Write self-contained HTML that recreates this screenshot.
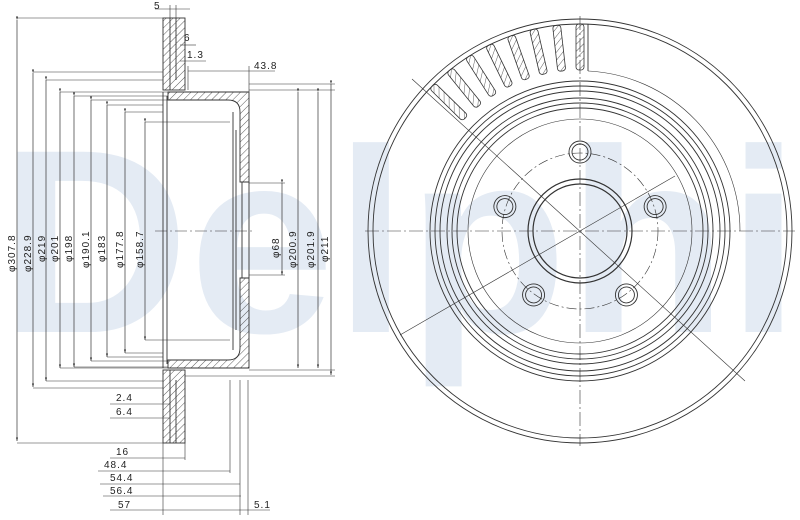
<!DOCTYPE html>
<html><head><meta charset="utf-8"><style>
html,body{margin:0;padding:0;background:#fff;width:800px;height:520px;overflow:hidden}
svg{display:block}
text{font-family:"Liberation Sans",sans-serif;font-size:10px;fill:#222;letter-spacing:1px}
</style></head><body>
<svg width="800" height="520" viewBox="0 0 800 520" xmlns="http://www.w3.org/2000/svg">
<defs>
<pattern id="h" width="5" height="5" patternUnits="userSpaceOnUse" patternTransform="rotate(45)">
<line x1="0" y1="0" x2="0" y2="5" stroke="#333" stroke-width="0.8"/></pattern>
<marker id="a" markerWidth="6" markerHeight="6" refX="5" refY="3" orient="auto"><path d="M0,1.5 L5,3 L0,4.5" fill="#333"/></marker>
</defs>
<text x="0" y="332" style="font-size:262px;font-weight:bold;fill:#e4ebf4;letter-spacing:0" textLength="800" lengthAdjust="spacingAndGlyphs">Delphi</text>

<g fill="none" stroke="#333" stroke-width="0.9">
<rect x="163" y="18" width="22" height="72" fill="url(#h)"/>
<rect x="163" y="370" width="22" height="73" fill="url(#h)"/>
<line x1="170" y1="18" x2="170" y2="90"/><line x1="176" y1="18" x2="176" y2="80"/>
<line x1="170" y1="370" x2="170" y2="443"/><line x1="176" y1="380" x2="176" y2="443"/>
<path d="M168,92 L249,92 L249,182 L240,182 L240,112 Q240,100 228,100 L168,100 Z" fill="url(#h)"/>
<path d="M168,368 L249,368 L249,278 L240,278 L240,348 Q240,360 228,360 L168,360 Z" fill="url(#h)"/>
<line x1="163" y1="92" x2="163" y2="368"/><line x1="167" y1="96" x2="167" y2="364"/>
<line x1="233" y1="112" x2="233" y2="350"/><line x1="236" y1="130" x2="236" y2="330"/>
<line x1="249" y1="182" x2="249" y2="278"/><line x1="242" y1="182" x2="242" y2="278"/>
<line x1="155" y1="231" x2="255" y2="231" stroke-dasharray="12,3,2,3" stroke-width="0.6"/>
<g marker-end="url(#a)" marker-start="url(#a)" stroke-width="0.7">
<line x1="17" y1="20" x2="17" y2="441"/>
<line x1="33" y1="73" x2="33" y2="387"/>
<line x1="46" y1="80" x2="46" y2="381"/>
<line x1="60" y1="92" x2="60" y2="368"/>
<line x1="74" y1="96" x2="74" y2="367"/>
<line x1="91" y1="100" x2="91" y2="361"/>
<line x1="107" y1="105" x2="107" y2="357"/>
<line x1="125" y1="112" x2="125" y2="353"/>
<line x1="145" y1="122" x2="145" y2="340"/>
<line x1="282" y1="183" x2="282" y2="275"/>
<line x1="298" y1="92" x2="298" y2="368"/>
<line x1="318" y1="92" x2="318" y2="368"/>
<line x1="331" y1="84" x2="331" y2="375"/>
</g>
<g stroke-width="0.6">
<line x1="17" y1="18" x2="163" y2="18"/><line x1="17" y1="443" x2="163" y2="443"/>
<line x1="33" y1="72" x2="163" y2="72"/><line x1="33" y1="388" x2="163" y2="388"/>
<line x1="46" y1="80" x2="163" y2="80"/><line x1="46" y1="381" x2="163" y2="381"/>
<line x1="60" y1="92" x2="168" y2="92"/><line x1="60" y1="368" x2="168" y2="368"/>
<line x1="74" y1="96" x2="168" y2="96"/><line x1="74" y1="367" x2="168" y2="367"/>
<line x1="91" y1="100" x2="168" y2="100"/><line x1="91" y1="361" x2="168" y2="361"/>
<line x1="107" y1="105" x2="163" y2="105"/><line x1="107" y1="357" x2="163" y2="357"/>
<line x1="125" y1="112" x2="163" y2="112"/><line x1="125" y1="353" x2="163" y2="353"/>
<line x1="145" y1="122" x2="230" y2="122"/><line x1="145" y1="340" x2="230" y2="340"/>
<line x1="249" y1="183" x2="285" y2="183"/><line x1="249" y1="275" x2="285" y2="275"/>
<line x1="249" y1="90" x2="335" y2="90"/><line x1="249" y1="370" x2="335" y2="370"/>
<line x1="249" y1="84" x2="335" y2="84"/><line x1="185" y1="376" x2="335" y2="376"/>
<line x1="155" y1="9" x2="190" y2="9"/><line x1="170" y1="5" x2="170" y2="18"/><line x1="176" y1="5" x2="176" y2="18"/>
<line x1="180" y1="45" x2="196" y2="45"/><line x1="180" y1="61" x2="206" y2="61"/>
<line x1="188" y1="71" x2="275" y2="71"/><line x1="188" y1="66" x2="188" y2="90"/><line x1="249" y1="66" x2="249" y2="92"/>
<line x1="110" y1="404" x2="170" y2="404"/><line x1="110" y1="418" x2="170" y2="418"/>
<line x1="110" y1="458" x2="185" y2="458"/>
<line x1="98" y1="471" x2="230" y2="471"/>
<line x1="100" y1="484" x2="240" y2="484"/>
<line x1="103" y1="496" x2="241" y2="496"/>
<line x1="110" y1="510" x2="270" y2="510"/>
<line x1="163" y1="443" x2="163" y2="515"/><line x1="185" y1="443" x2="185" y2="460"/>
<line x1="230" y1="380" x2="230" y2="473"/><line x1="240" y1="380" x2="240" y2="515"/><line x1="248" y1="380" x2="248" y2="515"/>
</g>
</g>
<g>
<text x="154" y="9">5</text><text x="184" y="41">6</text><text x="187" y="58">1.3</text><text x="254" y="69">43.8</text>
<text x="116" y="401">2.4</text><text x="116" y="415">6.4</text>
<text x="116" y="455">16</text><text x="104" y="468">48.4</text><text x="110" y="481">54.4</text><text x="110" y="494">56.4</text><text x="118" y="508">57</text><text x="254" y="508">5.1</text>
</g>
<g style="font-size:10px">
<text transform="translate(15,272) rotate(-90)">φ307.8</text>
<text transform="translate(31,272) rotate(-90)">φ228.9</text>
<text transform="translate(45,262) rotate(-90)">φ219</text>
<text transform="translate(58,262) rotate(-90)">φ201</text>
<text transform="translate(72,262) rotate(-90)">φ198</text>
<text transform="translate(89,268) rotate(-90)">φ190.1</text>
<text transform="translate(105,262) rotate(-90)">φ183</text>
<text transform="translate(123,268) rotate(-90)">φ177.8</text>
<text transform="translate(143,268) rotate(-90)">φ158.7</text>
<text transform="translate(279,258) rotate(-90)">φ68</text>
<text transform="translate(296,268) rotate(-90)">φ200.9</text>
<text transform="translate(314,268) rotate(-90)">φ201.9</text>
<text transform="translate(328,262) rotate(-90)">φ211</text>
</g>

<g fill="none" stroke="#333" stroke-width="0.9" transform="translate(580,231)">
<circle r="212"/><circle r="207"/>
<circle r="150"/><circle r="145"/><circle r="140"/><circle r="133"/><circle r="128"/><circle r="123"/>
<circle r="112" stroke-width="0.6"/>
<circle r="78" stroke-dasharray="10,3,2,3" stroke-width="0.6"/>
<circle r="52" stroke-width="1.2"/><circle r="47" stroke-width="1.2"/>
<g stroke-width="0.6">
<line x1="-215" y1="0" x2="215" y2="0" stroke-dasharray="14,3,2,3"/>
<line x1="0" y1="-215" x2="0" y2="215" stroke-dasharray="14,3,2,3"/>
<line x1="-168" y1="-152" x2="165" y2="150"/>
<line x1="95" y1="-55" x2="-180" y2="104"/>
</g>
<g id="b"><circle cx="0" cy="-79" r="11"/><circle cx="0" cy="-79" r="8"/></g>
<use href="#b" transform="rotate(72)"/><use href="#b" transform="rotate(144)"/><use href="#b" transform="rotate(216)"/><use href="#b" transform="rotate(288)"/>
<g fill="url(#h)" stroke-width="0.8">
<rect x="-4" y="-207" width="8" height="46" rx="3" transform="rotate(0)"/>
<rect x="-4" y="-207" width="8" height="46" rx="3" transform="rotate(-6.5)"/>
<rect x="-4" y="-207" width="8" height="46" rx="3" transform="rotate(-13)"/>
<rect x="-4" y="-207" width="8" height="46" rx="3" transform="rotate(-19.5)"/>
<rect x="-4" y="-207" width="8" height="46" rx="3" transform="rotate(-26)"/>
<rect x="-4" y="-207" width="8" height="46" rx="3" transform="rotate(-32.5)"/>
<rect x="-4" y="-207" width="8" height="46" rx="3" transform="rotate(-39)"/>
<rect x="-4" y="-207" width="8" height="46" rx="3" transform="rotate(-45.5)"/>
</g>
<line x1="8" y1="-207" x2="8" y2="-160"/>
<path d="M8,-160 A160,160 0 0 1 160,0" stroke-width="0.6"/>
</g>
</svg>
</body></html>
